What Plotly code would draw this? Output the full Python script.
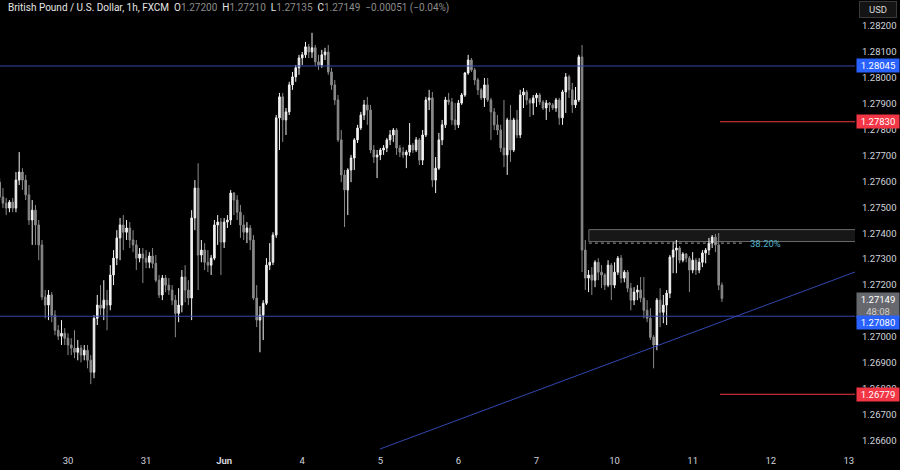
import plotly.graph_objects as go

# ---------------- data (GBP/USD 1h, FXCM) ----------------
opens = [
 1.27597,1.27540,1.27516,1.27497,1.27520,1.27497,1.27605,1.27636,1.27605,1.27548,
 1.27451,1.27489,1.27432,1.27355,1.27154,1.27123,1.27162,1.27084,1.27026,1.27003,
 1.27014,1.26995,1.26969,1.26957,1.26941,1.26957,1.26930,1.26949,1.26910,1.26864,
 1.27072,1.27123,1.27111,1.27142,1.27123,1.27239,1.27304,1.27382,1.27432,1.27404,
 1.27420,1.27374,1.27355,1.27304,1.27320,1.27304,1.27288,1.27312,1.27284,1.27219,
 1.27162,1.27227,1.27200,1.27181,1.27142,1.27091,1.27123,1.27231,1.27181,1.27150,
 1.27459,1.27574,1.27316,1.27335,1.27288,1.27277,1.27304,1.27432,1.27443,1.27366,
 1.27443,1.27451,1.27555,1.27528,1.27481,1.27432,1.27404,1.27420,1.27374,1.27150,
 1.27065,1.27084,1.27130,1.27277,1.27288,1.27393,1.27845,1.27926,1.27837,1.27868,
 1.27972,1.28003,1.28038,1.28076,1.28088,1.28119,1.28099,1.28115,1.28061,1.28049,
 1.28088,1.28099,1.28022,1.27972,1.27914,1.27760,1.27625,1.27567,1.27644,1.27690,
 1.27760,1.27806,1.27856,1.27895,1.27875,1.27721,1.27694,1.27702,1.27721,1.27729,
 1.27760,1.27779,1.27798,1.27729,1.27713,1.27702,1.27713,1.27740,1.27721,1.27760,
 1.27682,1.27779,1.27914,1.27922,1.27605,1.27651,1.27760,1.27818,1.27914,1.27906,
 1.27837,1.27818,1.27902,1.27933,1.28018,1.28068,1.28030,1.27991,1.27953,1.27922,
 1.27972,1.27914,1.27868,1.27818,1.27798,1.27729,1.27702,1.27837,1.27721,1.27837,
 1.27779,1.27933,1.27945,1.27914,1.27902,1.27922,1.27933,1.27906,1.27883,1.27902,
 1.27895,1.27883,1.27914,1.27845,1.27945,1.28003,1.27953,1.27895,1.27914,1.28080,
 1.27335,1.27227,1.27239,1.27219,1.27288,1.27250,1.27239,1.27200,1.27277,1.27200,
 1.27250,1.27304,1.27227,1.27250,1.27188,1.27142,1.27173,1.27181,1.27150,1.27103,
 1.27072,1.26999,1.26969,1.27142,1.27095,1.27123,1.27169,1.27308,1.27335,1.27343,
 1.27296,1.27320,1.27304,1.27258,1.27296,1.27258,1.27288,1.27324,1.27335,1.27362,
 1.27385,1.27355,1.27200,
]
highs = [
 1.27613,1.27574,1.27536,1.27528,1.27536,1.27636,1.27713,1.27651,1.27625,1.27586,
 1.27528,1.27509,1.27451,1.27374,1.27181,1.27181,1.27173,1.27103,1.27046,1.27065,
 1.27034,1.27014,1.26995,1.27026,1.26988,1.26969,1.26969,1.26969,1.26930,1.27084,
 1.27162,1.27200,1.27219,1.27181,1.27277,1.27335,1.27412,1.27459,1.27470,1.27451,
 1.27443,1.27412,1.27374,1.27343,1.27343,1.27335,1.27327,1.27343,1.27316,1.27239,
 1.27239,1.27239,1.27227,1.27200,1.27162,1.27188,1.27258,1.27277,1.27219,1.27489,
 1.27605,1.27670,1.27374,1.27362,1.27335,1.27316,1.27451,1.27470,1.27459,1.27459,
 1.27470,1.27567,1.27559,1.27547,1.27509,1.27470,1.27443,1.27432,1.27393,1.27200,
 1.27119,1.27142,1.27304,1.27362,1.27404,1.27856,1.27941,1.27941,1.27883,1.27984,
 1.28022,1.28049,1.28088,1.28099,1.28138,1.28130,1.28173,1.28126,1.28088,1.28107,
 1.28115,1.28126,1.28038,1.27991,1.27933,1.27798,1.27644,1.27651,1.27702,1.27767,
 1.27818,1.27868,1.27914,1.27926,1.27895,1.27740,1.27721,1.27729,1.27740,1.27767,
 1.27798,1.27806,1.27806,1.27740,1.27733,1.27721,1.27825,1.27748,1.27771,1.27767,
 1.27798,1.27926,1.27953,1.27945,1.27694,1.27787,1.27837,1.27926,1.27941,1.27922,
 1.27902,1.27914,1.27941,1.28022,1.28088,1.28076,1.28038,1.27999,1.27960,1.27999,
 1.27999,1.27922,1.27883,1.27856,1.27818,1.27914,1.27845,1.27895,1.27845,1.27875,
 1.27953,1.27960,1.27953,1.27922,1.27933,1.27941,1.27941,1.27914,1.27914,1.27906,
 1.27902,1.27922,1.27922,1.27953,1.28018,1.28011,1.27980,1.27964,1.28088,1.28126,
 1.27374,1.27258,1.27269,1.27296,1.27304,1.27277,1.27246,1.27296,1.27285,1.27288,
 1.27312,1.27316,1.27258,1.27258,1.27208,1.27192,1.27200,1.27231,1.27231,1.27142,
 1.27111,1.27007,1.27150,1.27188,1.27162,1.27181,1.27316,1.27366,1.27374,1.27351,
 1.27327,1.27324,1.27312,1.27327,1.27304,1.27304,1.27335,1.27343,1.27382,1.27393,
 1.27397,1.27401,1.27210,
]
lows = [
 1.27528,1.27497,1.27470,1.27481,1.27481,1.27481,1.27586,1.27567,1.27528,1.27432,
 1.27355,1.27355,1.27296,1.27142,1.27072,1.27065,1.27057,1.27007,1.26988,1.26969,
 1.26969,1.26930,1.26930,1.26918,1.26910,1.26902,1.26910,1.26879,1.26818,1.26841,
 1.27046,1.27084,1.27065,1.27026,1.27103,1.27200,1.27277,1.27296,1.27335,1.27374,
 1.27343,1.27327,1.27258,1.27288,1.27208,1.27265,1.27265,1.27265,1.27211,1.27150,
 1.27142,1.27173,1.27162,1.27123,1.26999,1.27057,1.27095,1.27134,1.27123,1.27065,
 1.27412,1.27181,1.27288,1.27258,1.27250,1.27239,1.27296,1.27355,1.27239,1.27343,
 1.27420,1.27432,1.27470,1.27451,1.27382,1.27374,1.27362,1.27335,1.27142,1.27038,
 1.26941,1.26988,1.27123,1.27258,1.27277,1.27382,1.27721,1.27752,1.27779,1.27856,
 1.27953,1.27984,1.28011,1.28049,1.28076,1.28076,1.28076,1.28045,1.28030,1.28038,
 1.28068,1.28011,1.27953,1.27895,1.27752,1.27597,1.27424,1.27470,1.27597,1.27644,
 1.27748,1.27798,1.27837,1.27818,1.27709,1.27671,1.27613,1.27682,1.27702,1.27713,
 1.27740,1.27752,1.27702,1.27694,1.27690,1.27651,1.27698,1.27709,1.27713,1.27663,
 1.27663,1.27771,1.27875,1.27578,1.27555,1.27644,1.27740,1.27806,1.27895,1.27818,
 1.27798,1.27806,1.27895,1.27926,1.28011,1.28022,1.27972,1.27933,1.27914,1.27887,
 1.27906,1.27760,1.27798,1.27779,1.27713,1.27655,1.27625,1.27675,1.27713,1.27767,
 1.27767,1.27883,1.27895,1.27849,1.27856,1.27887,1.27895,1.27875,1.27837,1.27868,
 1.27875,1.27868,1.27818,1.27818,1.27864,1.27922,1.27864,1.27883,1.27906,1.27250,
 1.27181,1.27173,1.27162,1.27192,1.27219,1.27188,1.27181,1.27192,1.27142,1.27188,
 1.27239,1.27208,1.27211,1.27173,1.27103,1.27123,1.27142,1.27134,1.27072,1.27057,
 1.26988,1.26879,1.26949,1.27038,1.27053,1.27046,1.27150,1.27246,1.27246,1.27284,
 1.27288,1.27288,1.27173,1.27246,1.27239,1.27246,1.27269,1.27284,1.27316,1.27343,
 1.27327,1.27181,1.27135,
]
closes = [
 1.27540,1.27516,1.27497,1.27520,1.27497,1.27605,1.27636,1.27605,1.27548,1.27451,
 1.27489,1.27432,1.27355,1.27154,1.27123,1.27162,1.27084,1.27026,1.27003,1.27014,
 1.26995,1.26969,1.26957,1.26941,1.26957,1.26930,1.26949,1.26910,1.26864,1.27072,
 1.27123,1.27111,1.27142,1.27123,1.27239,1.27304,1.27382,1.27432,1.27404,1.27420,
 1.27374,1.27355,1.27304,1.27320,1.27304,1.27288,1.27312,1.27284,1.27219,1.27162,
 1.27227,1.27200,1.27181,1.27142,1.27091,1.27123,1.27231,1.27181,1.27150,1.27459,
 1.27574,1.27316,1.27335,1.27288,1.27277,1.27304,1.27432,1.27443,1.27366,1.27443,
 1.27451,1.27555,1.27528,1.27481,1.27432,1.27404,1.27420,1.27374,1.27150,1.27065,
 1.27084,1.27130,1.27277,1.27288,1.27393,1.27845,1.27926,1.27837,1.27868,1.27972,
 1.28003,1.28038,1.28076,1.28088,1.28119,1.28099,1.28115,1.28061,1.28049,1.28088,
 1.28099,1.28022,1.27972,1.27914,1.27760,1.27625,1.27567,1.27644,1.27690,1.27760,
 1.27806,1.27856,1.27895,1.27875,1.27721,1.27694,1.27702,1.27721,1.27729,1.27760,
 1.27779,1.27798,1.27729,1.27713,1.27702,1.27713,1.27740,1.27721,1.27760,1.27682,
 1.27779,1.27914,1.27922,1.27605,1.27651,1.27760,1.27818,1.27914,1.27906,1.27837,
 1.27818,1.27902,1.27933,1.28018,1.28068,1.28030,1.27991,1.27953,1.27922,1.27972,
 1.27914,1.27868,1.27818,1.27798,1.27729,1.27702,1.27837,1.27721,1.27837,1.27779,
 1.27933,1.27945,1.27914,1.27902,1.27922,1.27933,1.27906,1.27883,1.27902,1.27895,
 1.27883,1.27914,1.27845,1.27945,1.28003,1.27953,1.27895,1.27914,1.28080,1.27335,
 1.27227,1.27239,1.27219,1.27288,1.27250,1.27239,1.27200,1.27277,1.27200,1.27250,
 1.27304,1.27227,1.27250,1.27188,1.27142,1.27173,1.27181,1.27150,1.27103,1.27072,
 1.26999,1.26969,1.27142,1.27095,1.27123,1.27169,1.27308,1.27335,1.27343,1.27296,
 1.27320,1.27304,1.27258,1.27296,1.27258,1.27288,1.27324,1.27335,1.27362,1.27385,
 1.27355,1.27200,1.27149,
]
bars = list(range(len(closes)))

day_ticks = [21, 45, 69, 93, 117, 141, 165, 189, 213, 237, 261]
day_labels = ["30", "31", "<b>Jun</b>", "4", "5", "6", "7", "10", "11", "12", "13"]
# 1.27100 is hidden behind the live-price label in the reference
price_ticks = [1.266, 1.267, 1.268, 1.269, 1.270, 1.272, 1.273, 1.274,
               1.275, 1.276, 1.277, 1.278, 1.279, 1.280, 1.281, 1.282]
price_labels = ["%.5f" % v for v in price_ticks]

blue_levels = [1.28045, 1.27080]
red_levels = [1.27830, 1.26779]
red_start = 221.4
trend_x = [116.9, 275]
trend_y = [1.265679, 1.273071]
zone_x0 = 181.1
zone_top, zone_bottom = 1.27414, 1.27368
fib_level = 1.27362
fib_end = 229
last_price = 1.27149
countdown = "48:08"

X_RANGE = [0.1, 262.9]
Y_RANGE = [1.265525, 1.282995]
FONT = "Roboto, Liberation Sans, sans-serif"
BLUE_LINE = "#3347b0"
RED = "#f23645"

fig = go.Figure()
fig.add_trace(go.Candlestick(
    x=bars, open=opens, high=highs, low=lows, close=closes,
    increasing=dict(line=dict(color="#f2f2f2", width=1), fillcolor="#f2f2f2"),
    decreasing=dict(line=dict(color="#8a8a8a", width=1), fillcolor="#8a8a8a"),
    hoverinfo="skip", showlegend=False,
))

shapes = []
shapes.append(dict(type="rect", xref="x", yref="y", x0=zone_x0, x1=X_RANGE[1] + 5,
                   y0=zone_bottom, y1=zone_top, fillcolor="rgba(255,255,255,0.09)",
                   line=dict(color="#6a6a6a", width=1), layer="below"))
shapes.append(dict(type="line", xref="x", yref="y", x0=zone_x0, x1=fib_end,
                   y0=fib_level, y1=fib_level, line=dict(color="#a0a0a0", width=1, dash="dot")))
for lv in blue_levels:
    shapes.append(dict(type="line", xref="x", yref="y", x0=X_RANGE[0] - 2, x1=X_RANGE[1] + 2,
                       y0=lv, y1=lv, line=dict(color=BLUE_LINE, width=1)))
for lv in red_levels:
    shapes.append(dict(type="line", xref="x", yref="y", x0=red_start, x1=X_RANGE[1] + 2,
                       y0=lv, y1=lv, line=dict(color=RED, width=1)))
shapes.append(dict(type="line", xref="x", yref="y", x0=trend_x[0], x1=trend_x[1],
                   y0=trend_y[0], y1=trend_y[1], line=dict(color=BLUE_LINE, width=1)))

annotations = []
hdr = ('<span style="color:#e6e6e6">British Pound / U.S. Dollar, 1h, FXCM</span>'
       '&nbsp;&nbsp;<span style="color:#e6e6e6">O</span><span style="color:#8c8c8c">1.27200</span>'
       '&nbsp;&nbsp;<span style="color:#e6e6e6">H</span><span style="color:#8c8c8c">1.27210</span>'
       '&nbsp;&nbsp;<span style="color:#e6e6e6">L</span><span style="color:#8c8c8c">1.27135</span>'
       '&nbsp;&nbsp;<span style="color:#e6e6e6">C</span><span style="color:#8c8c8c">1.27149</span>'
       '&nbsp;&nbsp;<span style="color:#8c8c8c">−0.00051 (−0.04%)</span>')
annotations.append(dict(xref="paper", yref="paper", x=6 / 855, y=1 - 8 / 453, xanchor="left",
                        yanchor="middle", text=hdr, showarrow=False,
                        font=dict(family=FONT, size=10, color="#e6e6e6")))
annotations.append(dict(xref="x", yref="y", x=235.5, y=fib_level, text="38.20%",
                        showarrow=False, xanchor="center", yanchor="middle",
                        font=dict(family=FONT, size=9.5, color="#4fb0c6")))
annotations.append(dict(xref="paper", yref="paper", x=878 / 855, y=1 - 9.5 / 453,
                        xanchor="center", yanchor="middle", text="USD", showarrow=False,
                        width=34, height=13, bgcolor="#141414", bordercolor="#3a3a3a",
                        borderwidth=1, borderpad=1,
                        font=dict(family=FONT, size=9.5, color="#d8d8d8")))


def price_box(y, text, bg, fc="#ffffff", height=11, yanchor="middle", yshift=0):
    return dict(xref="paper", yref="y", x=856 / 855, y=y, xanchor="left", yanchor=yanchor,
                yshift=yshift, text=text, showarrow=False, width=40, height=height,
                bgcolor=bg, borderpad=1, font=dict(family=FONT, size=9.5, color=fc))


annotations.append(price_box(blue_levels[0], "%.5f" % blue_levels[0], "#2962ff"))
annotations.append(price_box(red_levels[0], "%.5f" % red_levels[0], RED))
annotations.append(price_box(last_price,
                             "%.5f<br><span style='color:#cfcfcf'>%s</span>" % (last_price, countdown),
                             "#67686e", height=23, yanchor="top", yshift=6.5))
annotations.append(price_box(blue_levels[1], "%.5f" % blue_levels[1], "#2962ff", yshift=-6))
annotations.append(price_box(red_levels[1], "%.5f" % red_levels[1], RED))

fig.update_layout(
    width=900, height=470,
    margin=dict(l=0, r=45, t=0, b=17),
    paper_bgcolor="#000000", plot_bgcolor="#000000",
    showlegend=False, hovermode=False,
    shapes=shapes, annotations=annotations,
    font=dict(family=FONT, color="#d1d4dc"),
    xaxis=dict(range=X_RANGE, showgrid=False, zeroline=False, showline=False,
               rangeslider=dict(visible=False), tickmode="array",
               tickvals=day_ticks, ticktext=day_labels, ticks="",
               tickfont=dict(family=FONT, size=9.5, color="#d1d4dc"), fixedrange=True),
    yaxis=dict(range=Y_RANGE, side="right", showgrid=False, zeroline=False, showline=False,
               tickmode="array", tickvals=price_ticks, ticktext=price_labels, ticks="",
               ticklabelstandoff=6,
               tickfont=dict(family=FONT, size=9.5, color="#d1d4dc"), fixedrange=True),
)

fig.write_html("out.html", config={"displayModeBar": False},
               post_script="document.body.style.margin='0';document.body.style.overflow='hidden';")
